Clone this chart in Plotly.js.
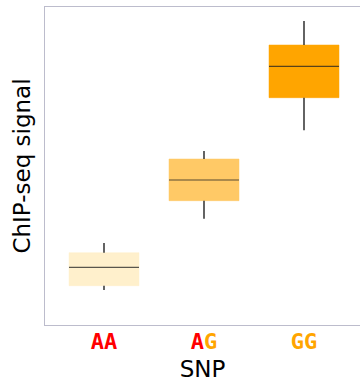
<!DOCTYPE html>
<html>
<head>
<meta charset="utf-8">
<script src="https://cdn.plot.ly/plotly-3.0.1.min.js"></script>
<style>html,body{margin:0;padding:0;background:#fff;}#chart{width:360px;height:382px;}</style>
</head>
<body>
<div id="chart"></div>
<script>
// Data (arbitrary signal units)
const categories = ['AA', 'AG', 'GG'];
const tickLabels = [
  '<span style="color:#ff0000">A</span><span style="color:#ff0000">A</span>',
  '<span style="color:#ff0000">A</span><span style="color:#ffa500">G</span>',
  '<span style="color:#ffa500">G</span><span style="color:#ffa500">G</span>'
];
const lowerWhisker = [35.0, 106.3, 194.7];
const q1Values     = [39.3, 124.3, 227.3];
const medianValues = [57.7, 145.0, 258.7];
const q3Values     = [72.3, 166.0, 280.0];
const upperWhisker = [82.0, 174.0, 304.0];
const fillColors   = ['#fff0cc', '#ffc966', '#ffa500'];

const boxWidth = 0.7;
const traces = [];
categories.forEach((c, i) => {
  traces.push({
    type: 'box', x: [i], q1: [q1Values[i]], median: [q1Values[i]], q3: [q3Values[i]],
    lowerfence: [q1Values[i]], upperfence: [q3Values[i]],
    width: boxWidth, fillcolor: fillColors[i],
    line: {color: fillColors[i], width: 0.5}, whiskerwidth: 0,
    hoverinfo: 'skip', showlegend: false
  });
  // whiskers
  traces.push({
    type: 'scatter', mode: 'lines', x: [i, i, null, i, i],
    y: [lowerWhisker[i], q1Values[i], null, q3Values[i], upperWhisker[i]],
    line: {color: '#222222', width: 1.4}, hoverinfo: 'skip', showlegend: false
  });
  // median
  traces.push({
    type: 'scatter', mode: 'lines', x: [i - boxWidth / 2, i + boxWidth / 2],
    y: [medianValues[i], medianValues[i]],
    line: {color: '#222222', width: 1.2}, opacity: 0.75, hoverinfo: 'skip', showlegend: false
  });
});

const layout = {
  width: 360, height: 382,
  margin: {l: 45, r: 0, t: 7, b: 57},
  paper_bgcolor: '#ffffff', plot_bgcolor: '#ffffff',
  font: {family: 'DejaVu Sans', color: '#000'},
  xaxis: {
    range: [-0.59, 2.56], tickvals: [0, 1, 2], ticktext: tickLabels,
    showgrid: false, zeroline: false, showline: true, mirror: true,
    linecolor: '#bcbccc', linewidth: 1.3, ticks: '', ticklabelstandoff: -4,
    tickfont: {family: 'DejaVu Sans Mono', size: 22, weight: 'bold'},
    title: {text: 'SNP', font: {size: 23}, standoff: 9}
  },
  yaxis: {
    range: [0, 318], showticklabels: false, showgrid: false, zeroline: false,
    showline: true, linecolor: '#bcbccc', linewidth: 1.3, ticks: '',
    title: {text: 'ChIP-seq signal', font: {size: 23}, standoff: 6}
  }
};
Plotly.newPlot('chart', traces, layout, {displayModeBar: false, staticPlot: true});
</script>
</body>
</html>
